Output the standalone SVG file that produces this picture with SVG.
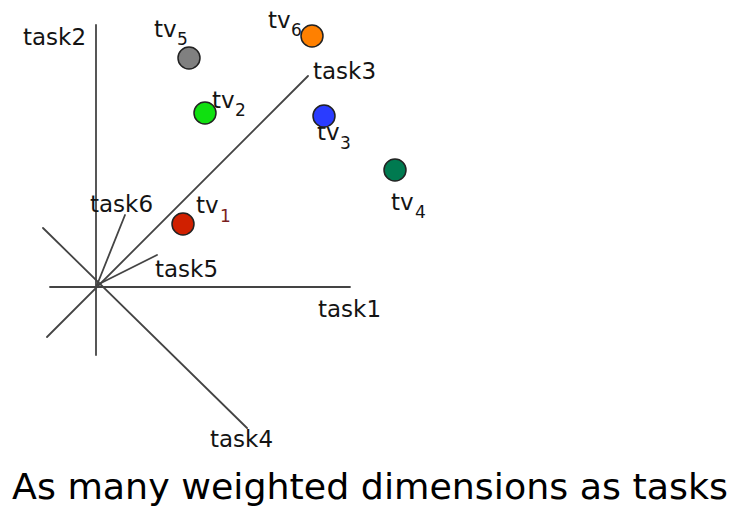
<svg xmlns="http://www.w3.org/2000/svg" width="732" height="508" viewBox="0 0 732 508">
<style>
.ax{stroke:#444;stroke-width:1.8;fill:none;stroke-linecap:round}
.lbl{font-family:"DejaVu Sans",Verdana,sans-serif;font-size:23px;fill:#141414}
.tv{font-family:"DejaVu Sans",Verdana,sans-serif;font-size:23px;fill:#141414}
.sub{font-family:"DejaVu Sans",Verdana,sans-serif;font-size:17px;fill:#141414}
.pt{stroke:#222;stroke-width:1.5}
.cap{font-family:"DejaVu Sans",Verdana,sans-serif;font-size:36px;fill:#000}
</style>
<rect width="732" height="508" fill="#fff"/>
<g id="connectors">
<line class="ax" x1="50" y1="287" x2="350" y2="287"/>
<line class="ax" x1="96" y1="25" x2="96" y2="355"/>
<line class="ax" x1="47" y1="337" x2="308" y2="76"/>
<line class="ax" x1="43" y1="228" x2="247" y2="428"/>
<line class="ax" x1="97" y1="285" x2="157" y2="255"/>
<line class="ax" x1="97" y1="285" x2="125" y2="215"/>
</g>
<g id="task1"><text class="lbl" x="318" y="317">task1</text></g>
<g id="task2"><text class="lbl" x="23" y="45">task2</text></g>
<g id="task3"><text class="lbl" x="313" y="79">task3</text></g>
<g id="task4"><text class="lbl" x="210" y="447">task4</text></g>
<g id="task5"><text class="lbl" x="155" y="277">task5</text></g>
<g id="task6"><text class="lbl" x="90" y="212">task6</text></g>
<g id="tv1"><text class="tv" x="196" y="213">tv</text><text class="sub" x="220" y="222" style="fill:#7a1e1e">1</text><circle class="pt" cx="183" cy="224" r="11" fill="#d02000"/></g>
<g id="tv2"><text class="tv" x="212" y="108">tv</text><text class="sub" x="235" y="116">2</text><circle class="pt" cx="205" cy="113" r="11" fill="#10e010"/></g>
<g id="tv3"><text class="tv" x="317" y="140">tv</text><text class="sub" x="340" y="149">3</text><circle class="pt" cx="324" cy="116" r="11" fill="#2a3cff"/></g>
<g id="tv4"><text class="tv" x="391" y="210">tv</text><text class="sub" x="415" y="218">4</text><circle class="pt" cx="395" cy="170" r="11" fill="#007a50"/></g>
<g id="tv5"><text class="tv" x="154" y="37">tv</text><text class="sub" x="177" y="45">5</text><circle class="pt" cx="189" cy="58" r="11" fill="#808080"/></g>
<g id="tv6"><text class="tv" x="268" y="28">tv</text><text class="sub" x="291" y="36">6</text><circle class="pt" cx="312" cy="36" r="11" fill="#ff8000"/></g>
<g id="caption"><text class="cap" x="12" y="499" textLength="716" lengthAdjust="spacingAndGlyphs">As many weighted dimensions as tasks</text></g>
</svg>
